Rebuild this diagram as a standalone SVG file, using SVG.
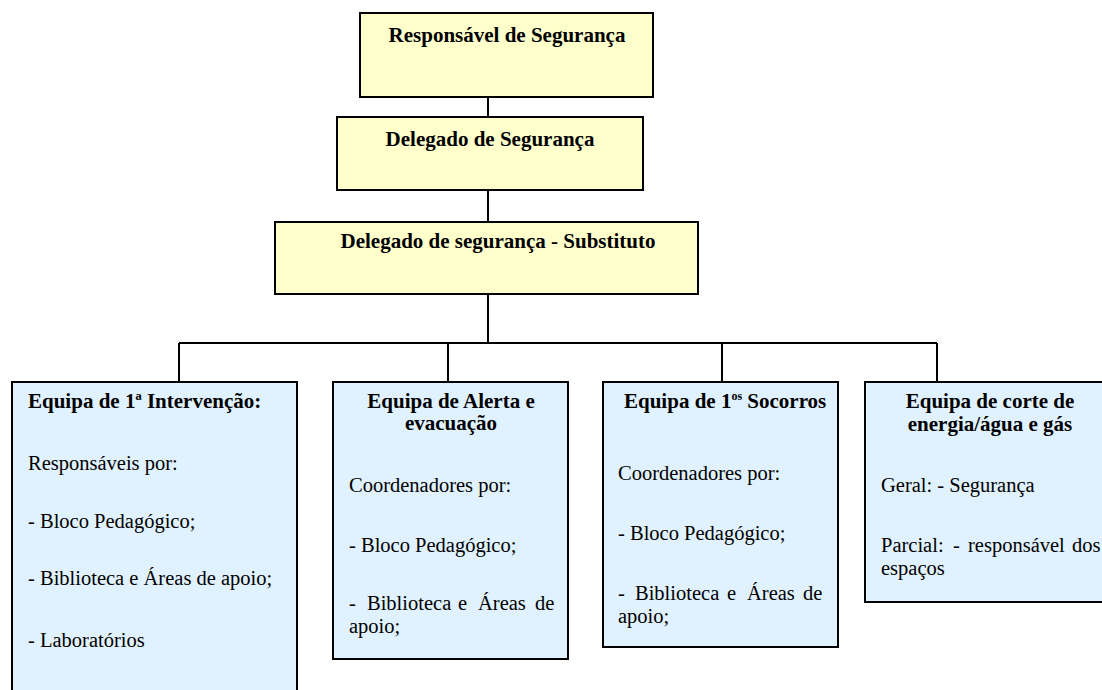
<svg xmlns="http://www.w3.org/2000/svg" width="1102" height="690" viewBox="0 0 1102 690">
<style>
.y{fill:#FFFFCC;stroke:#000;stroke-width:2}
.b{fill:#E0F2FF;stroke:#000;stroke-width:2}
.t{font-family:"Liberation Serif","Times New Roman",serif;font-size:21px;font-weight:bold;fill:#000}
.c{text-anchor:middle}
.r{font-family:"Liberation Serif","Times New Roman",serif;font-size:20.5px;fill:#000}
.l{fill:none;stroke:#000;stroke-width:2}
</style>
<rect width="1102" height="690" fill="#fff"/>
<g id="connectors">
<path class="l" d="M488 97V117M488 190V222M488 294V343M179 343H937M179 343V382M448 343V382M722 343V382M937 343V382"/>
</g>
<g id="n1">
<rect class="y" x="360" y="13" width="293" height="84"/>
<text class="t c" x="507" y="42">Responsável de Segurança</text>
</g>
<g id="n2">
<rect class="y" x="337" y="117" width="306" height="73"/>
<text class="t c" x="490" y="146">Delegado de Segurança</text>
</g>
<g id="n3">
<rect class="y" x="275" y="222" width="423" height="72"/>
<text class="t c" x="498" y="248">Delegado de segurança - Substituto</text>
</g>
<g id="n4">
<rect class="b" x="12" y="382" width="285" height="320"/>
<text class="t" x="28" y="408">Equipa de 1ª Intervenção:</text>
<text class="r" x="28" y="470">Responsáveis por:</text>
<text class="r" x="28" y="528">- Bloco Pedagógico;</text>
<text class="r" x="28" y="585">- Biblioteca e Áreas de apoio;</text>
<text class="r" x="28" y="647">- Laboratórios</text>
</g>
<g id="n5">
<rect class="b" x="333" y="382" width="235" height="277"/>
<text class="t c" x="451" y="408">Equipa de Alerta e</text>
<text class="t c" x="451" y="430">evacuação</text>
<text class="r" x="349" y="492">Coordenadores por:</text>
<text class="r" x="349" y="552">- Bloco Pedagógico;</text>
<text class="r" y="610"><tspan x="349">-</tspan><tspan x="367">Biblioteca</tspan><tspan x="458">e</tspan><tspan x="478">Áreas</tspan><tspan x="535">de</tspan></text>
<text class="r" x="349" y="633">apoio;</text>
</g>
<g id="n6">
<rect class="b" x="603" y="382" width="235" height="265"/>
<text class="t" x="624" y="408">Equipa de 1<tspan font-size="12" dy="-8">os</tspan><tspan dy="8"> Socorros</tspan></text>
<text class="r" x="618" y="480">Coordenadores por:</text>
<text class="r" x="618" y="540">- Bloco Pedagógico;</text>
<text class="r" y="600"><tspan x="618">-</tspan><tspan x="635">Biblioteca</tspan><tspan x="727">e</tspan><tspan x="747">Áreas</tspan><tspan x="803">de</tspan></text>
<text class="r" x="618" y="623">apoio;</text>
</g>
<g id="n7">
<rect class="b" x="865" y="382" width="250" height="220"/>
<text class="t c" x="990" y="408">Equipa de corte de</text>
<text class="t c" x="990" y="431">energia/água e gás</text>
<text class="r" x="881" y="492">Geral: - Segurança</text>
<text class="r" y="552"><tspan x="881">Parcial:</tspan><tspan x="953">-</tspan><tspan x="968">responsável</tspan><tspan x="1072">dos</tspan></text>
<text class="r" x="881" y="575">espaços</text>
</g>
</svg>
